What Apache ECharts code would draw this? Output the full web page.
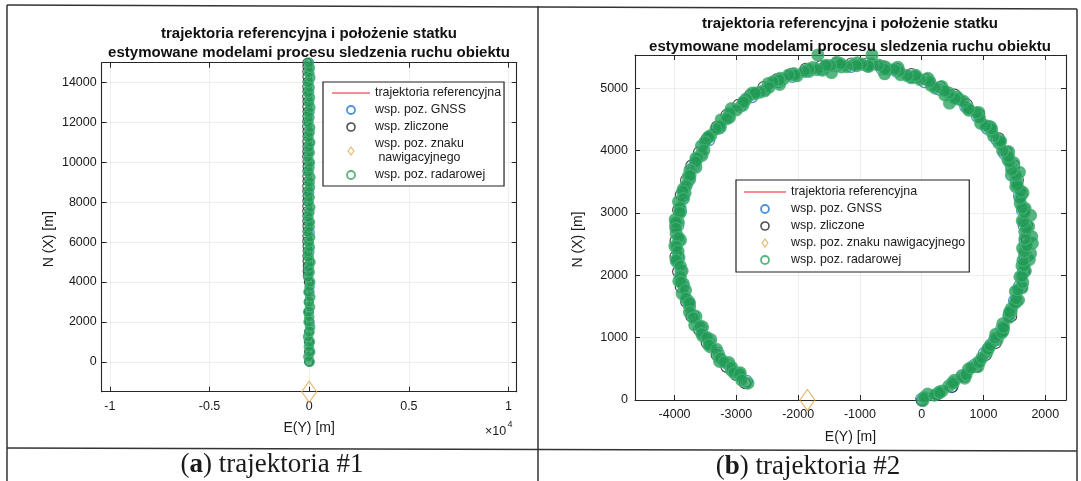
<!DOCTYPE html>
<html>
<head>
<meta charset="utf-8">
<script src="https://cdn.jsdelivr.net/npm/echarts@6/dist/echarts.min.js"></script>
<style>
  html, body { margin: 0; padding: 0; background: #fff; }
  #chart { width: 1081px; height: 481px; }
</style>
</head>
<body>
<div id="chart"></div>
<script>
// ---- shared text ----
const TITLE = ['trajektoria referencyjna i położenie statku',
               'estymowane modelami procesu sledzenia ruchu obiektu'];
const NAMES = ['trajektoria referencyjna', 'wsp. poz. GNSS', 'wsp. zliczone',
               'wsp. poz. znaku nawigacyjnego', 'wsp. poz. radarowej'];
const CAPTIONS = ['a', 'b'];

// ---- tick labels ----
const xTicks1 = [-10000, -5000, 0, 5000, 10000];
const yTicks1 = [0, 2000, 4000, 6000, 8000, 10000, 12000, 14000];
const xTicks2 = [-4000, -3000, -2000, -1000, 0, 1000, 2000];
const yTicks2 = [0, 1000, 2000, 3000, 4000, 5000];

// ---- trajectory #1 (straight run north), E / N in metres ----
const ref1E = [0, 0];
const ref1N = [0, 15000];
const gnss1E = [-15, 20, -30, 10, 35, -5, -25, 30, 0, -35, 15, 25, -20, 40, -10, 5, -30, 20, 35, -15, 0, -40, 25, 10, -20, 30, -5, 15, -35, 20, 5];
const gnss1N = [0, 500, 1000, 1500, 2000, 2500, 3000, 3500, 4000, 4500, 5000, 5500, 6000, 6500, 7000, 7500, 8000, 8500, 9000, 9500, 10000, 10500, 11000, 11500, 12000, 12500, 13000, 13500, 14000, 14500, 15000];
const dr1E = [-10, -15, -5, -20, -10, -25, -15, -20, -30,
  -80, -90, -85, -95, -100, -90, -95, -105, -100, -95, -100, -105, -100, -110, -105, -100, -95, -105, -110, -100,
  -105, -100, -95, -100, -110, -105, -100, -105, -95, -100, -110, -105, -100, -95, -105, -100, -110, -100, -105, -95,
  -100, -105, -100, -100];
const dr1N = [0, 500, 1000, 1500, 2000, 2500, 3000, 3500, 4000,
  4300, 4550, 4800, 5050, 5300, 5550, 5800, 6050, 6300, 6550, 6800, 7050, 7300, 7550, 7800, 8050, 8300, 8550, 8800, 9050,
  9300, 9550, 9800, 10050, 10300, 10550, 10800, 11050, 11300, 11550, 11800, 12050, 12300, 12550, 12800, 13050, 13300, 13550, 13800, 14050,
  14300, 14550, 14800, 15000];
const radar1E = [25, -40, 50, -15, 35, -55, 10, 45, -30, 0,
  -50, 40, -20, 55, -35, 15, 50, -45, 25, -10,
  60, -25, -50, 30, -15, 45, -55, 20, 35, -40,
  5, 55, -30, 20, -50, 40, -5, 60, -45, 10,
  30, -55, 25, -20, 50, -35, 15, 45, -60, 10,
  -25, 55, -5, 35, -50, 20, -40, 55, -15, 30, -30];
const radar1N = [0, 250, 500, 750, 1000, 1250, 1500, 1750, 2000, 2250,
  2500, 2750, 3000, 3250, 3500, 3750, 4000, 4250, 4500, 4750,
  5000, 5250, 5500, 5750, 6000, 6250, 6500, 6750, 7000, 7250,
  7500, 7750, 8000, 8250, 8500, 8750, 9000, 9250, 9500, 9750,
  10000, 10250, 10500, 10750, 11000, 11250, 11500, 11750, 12000, 12250,
  12500, 12750, 13000, 13250, 13500, 13750, 14000, 14250, 14500, 14750, 15000];
const beacon1 = [0, -1500];

// ---- trajectory #2 (turning circle) ----
const ref2E = [0, 483, 861, 1178, 1425, 1594, 1679, 1679, 1594, 1470, 1230, 910, 520, 56, -408, -893,
  -1387, -1872, -2336, -2763, -3141, -3458, -3705, -3874, -3959, -3959, -3874, -3705, -3458, -3141, -2843];
const ref2N = [0, 232, 549, 927, 1354, 1818, 2303, 2797, 3282, 3750, 4180, 4560, 4875, 5115, 5284, 5369,
  5369, 5284, 5115, 4868, 4551, 4173, 3746, 3282, 2797, 2303, 1818, 1354, 927, 549, 290];
const gnss2E = [-10, 250, 480, 655, 850, 1005, 1160, 1290, 1405, 1495, 1575, 1640, 1660, 1665, 1650, 1625,
  1575, 1520, 1450, 1335, 1215, 1055, 895, 705, 505, 280, 45, -180, -410, -650, -890, -1140,
  -1385, -1625, -1865, -2095, -2325, -2535, -2745, -2935, -3125, -3285, -3440, -3565, -3690, -3775,
  -3855, -3900, -3940, -3930, -3940, -3900, -3855, -3775, -3690, -3565, -3440, -3285, -3125, -2980, -2830];
const gnss2N = [15, 95, 205, 400, 565, 750, 940, 1150, 1365, 1595, 1825, 2070, 2310, 2530, 2790, 3030,
  3275, 3500, 3740, 3950, 4165, 4350, 4540, 4700, 4855, 4975, 5095, 5180, 5265, 5305, 5350, 5340,
  5350, 5305, 5265, 5180, 5095, 4975, 4855, 4700, 4540, 4350, 4165, 3950, 3740, 3505,
  3275, 3035, 2795, 2550, 2305, 2065, 1825, 1590, 1360, 1150, 940, 750, 565, 435, 305];
const dr2E = [5, 254, 497, 688, 879, 1039, 1198, 1324, 1448, 1533, 1618, 1662, 1704, 1704, 1704, 1662,
  1618, 1555, 1493, 1372, 1250, 1089, 928, 731, 534, 300, 67, -167, -402, -647, -891, -1140,
  -1389, -1634, -1878, -2113, -2347, -2562, -2777, -2968, -3159, -3319, -3478, -3604, -3728, -3813,
  -3898, -3942, -3984, -3984, -3984, -3942, -3898, -3813, -3728, -3604, -3478, -3319, -3159, -3008, -2858];
const dr2N = [-10, 94, 212, 372, 531, 722, 913, 1129, 1343, 1577, 1812, 2057, 2301, 2550, 2799, 3044,
  3288, 3525, 3761, 3977, 4194, 4386, 4578, 4737, 4895, 5017, 5138, 5223, 5308, 5352, 5394, 5394,
  5394, 5352, 5308, 5223, 5138, 5014, 4888, 4729, 4569, 4378, 4187, 3972, 3757, 3523,
  3288, 3044, 2799, 2550, 2301, 2057, 1812, 1577, 1343, 1129, 913, 722, 531, 401, 270];
const radar2E = [20, 96, 282, 327, 498, 533, 697, 757, 911, 910,
  1055, 1079, 1223, 1200, 1312, 1313, 1445, 1452, 1565, 1517,
  1624, 1590, 1677, 1623, 1760, 1634, 1790, 1669, 1729, 1628,
  1672, 1595, 1639, 1523, 1542, 1451, 1490, 1395, 1405, 1255,
  1260, 1125, 1110, 955, 925, 767, 740, 607, 570, 374,
  323, 152, 101, -100, -166, -342, -388, -544, -596, -807,
  -863, -1042, -1100, -1299, -1372, -1553, -1605, -1761, -1822, -2018,
  -2069, -2240, -2291, -2483, -2540, -2706, -2743, -2873, -2897, -3082,
  -3111, -3245, -3260, -3414, -3443, -3565, -3557, -3653, -3655, -3777,
  -3755, -3852, -3829, -3935, -3907, -3988, -3939, -3974, -3904, -3994,
  -3929, -3963, -3877, -3930, -3859, -3877, -3765, -3757, -3655, -3673,
  -3547, -3540, -3413, -3419, -3290, -3270, -3121, -3082, -2937, -2953, -2813,
  -1680, -805, -1460, -600, 1780, 1760, 1740, 450, -2300, 1580,
  40, 207, 292, 438, 506, 645, 720, 799, 931, 975,
  1070, 1109, 1189, 1296, 1323, 1409, 1421, 1509, 1531, 1558,
  1635, 1621, 1658, 1639, 1659, 1704, 1669, 1694, 1644, 1668,
  1626, 1590, 1609, 1543, 1527, 1456, 1420, 1405, 1310, 1275,
  1165, 1130, 1030, 935, 891, 759, 676, 539, 442, 371,
  220, 129, -27, -98, -234, -365, -439, -595, -702, -863,
  -975, -1054, -1212, -1311, -1473, -1549, -1691, -1827, -1900, -2051,
  -2152, -2308, -2410, -2472, -2613, -2695, -2836, -2885, -3000, -3109,
  -3151, -3265, -3330, -3449, -3509, -3526, -3623, -3659, -3751, -3749,
  -3811, -3868, -3855, -3911, -3918, -3979, -3979, -3934, -3969, -3944,
  -3974, -3908, -3906, -3900, -3823, -3816, -3759, -3756, -3694, -3588,
  -3561, -3474, -3444, -3320, -3260, -3196, -3074, -3035, -2945, -2911];
const radar2N = [-10, 93, 126, 144, 277, 316, 351, 495, 534, 599,
  768, 823, 967, 1054, 1106, 1222, 1404, 1465, 1601, 1742,
  1798, 1974, 2071, 2152, 2348, 2432, 2510, 2699, 2782, 2873,
  3070, 3151, 3322, 3419, 3481, 3608, 3800, 3853, 3980, 4113,
  4160, 4310, 4380, 4435, 4605, 4644, 4678, 4821, 4860, 4890,
  5025, 5045, 5155, 5177, 5165, 5217, 5334, 5300, 5342, 5388,
  5349, 5404, 5379, 5339, 5414, 5353, 5287, 5330, 5269, 5197,
  5230, 5147, 5155, 5073, 4957, 4905, 4918, 4784, 4725, 4670,
  4531, 4492, 4372, 4238, 4218, 4071, 3920, 3878, 3731, 3585,
  3544, 3388, 3322, 3181, 3005, 2893, 2847, 2669, 2565, 2467,
  2283, 2217, 2071, 1909, 1863, 1707, 1546, 1495, 1339, 1202,
  1171, 1024, 967, 853, 703, 619, 599, 479, 435, 395, 270,
  5530, 5530, 5250, 5230, 2620, 2960, 2250, 4760, 5060, 3650,
  44, 77, 120, 223, 272, 376, 411, 520, 602, 676,
  816, 875, 996, 1078, 1169, 1321, 1412, 1553, 1624, 1770,
  1884, 1985, 2152, 2238, 2380, 2479, 2587, 2756, 2858, 3004,
  3081, 3232, 3346, 3443, 3605, 3687, 3819, 3902, 3994, 4147,
  4228, 4348, 4398, 4523, 4605, 4664, 4787, 4831, 4920, 4955,
  5000, 5105, 5136, 5204, 5201, 5273, 5300, 5301, 5368, 5354,
  5384, 5359, 5344, 5389, 5359, 5363, 5296, 5305, 5268, 5206,
  5209, 5131, 5099, 5013, 4936, 4919, 4829, 4775, 4650, 4601,
  4509, 4395, 4345, 4216, 4135, 4003, 3882, 3820, 3688, 3597,
  3436, 3350, 3227, 3086, 3009, 2853, 2751, 2602, 2464, 2385,
  2243, 2147, 1980, 1889, 1765, 1629, 1558, 1407, 1316, 1184,
  1063, 1001, 880, 811, 671, 607, 522, 437, 418, 318];
const beacon2 = [-1850, 0];

// ---- styling ----
const SANS = "'Liberation Sans', Arial, Helvetica, sans-serif";
const SERIF = "'Liberation Serif', 'Times New Roman', serif";
const INK = '#262626';
const COL = { ref: '#f01c24', gnss: '#1f78d1', dr: '#222222', beacon: '#e2a64c', radar: '#46b374' };
const RADAR_FILL = 'rgba(32,154,86,0.93)';

const zip = (a, b) => a.map((v, i) => [v, b[i]]);

function axis(gridIndex, position, min, max, ticks, o) {
  const primary = position === 'bottom' || position === 'left';
  const isY = position === 'left' || position === 'right';
  return {
    type: 'value', gridIndex, position, min, max,
    splitNumber: o.split,
    axisLine: { show: true, onZero: false, lineStyle: { color: INK, width: 1.1 } },
    axisTick: { show: true, inside: true, length: 5, customValues: ticks, lineStyle: { color: INK, width: 1 } },
    axisLabel: {
      show: primary, customValues: ticks, formatter: o.fmt || (v => String(v)),
      margin: o.margin, color: '#1a1a1a', fontSize: 12.5, fontFamily: SANS
    },
    splitLine: { show: primary, lineStyle: { color: '#eeeeee', width: 1 } },
    name: primary ? o.name : '',
    nameLocation: 'middle', nameGap: o.nameGap, nameRotate: isY ? 90 : 0,
    nameTextStyle: { color: '#1a1a1a', fontSize: 14, fontFamily: SANS, padding: isY ? [0, 24, 0, 0] : 0 }
  };
}

function legend(left, top, itemWidth, padding, twoLine) {
  const hollow = (c, w) => ({ color: 'rgba(0,0,0,0)', borderColor: c, borderWidth: w });
  return {
    orient: 'vertical', left, top, itemWidth, itemHeight: 8, itemGap: 3, padding,
    selectedMode: false, backgroundColor: '#fff',
    borderColor: '#222', borderWidth: 1.2, borderRadius: 0,
    textStyle: { color: '#1a1a1a', fontSize: 12.4, lineHeight: 14, fontFamily: SANS },
    formatter: twoLine ? (n => n === NAMES[3] ? 'wsp. poz. znaku\n nawigacyjnego' : n) : undefined,
    data: [
      { name: NAMES[0], icon: 'path://M0,0H60V1.2H0Z', itemStyle: { color: COL.ref, borderWidth: 0 } },
      { name: NAMES[1], icon: 'circle', itemStyle: hollow(COL.gnss, 1.8) },
      { name: NAMES[2], icon: 'circle', itemStyle: hollow(COL.dr, 1.6) },
      { name: NAMES[3], icon: 'path://M5,0L10,7L5,14L0,7Z', itemStyle: hollow(COL.beacon, 1.2) },
      { name: NAMES[4], icon: 'circle', itemStyle: hollow('#2ea35f', 1.8) }
    ]
  };
}

function panelSeries(p, d, size, radarSize) {
  const ax = { xAxisIndex: p * 2, yAxisIndex: p * 2 };
  const ring = (c, fill) => ({ color: fill, borderColor: c, borderWidth: 1.2 });
  return [
    // reference track sits underneath every marker layer
    Object.assign({ type: 'line', name: NAMES[0], z: 1, data: zip(d.refE, d.refN), symbol: 'none', showSymbol: false,
      lineStyle: { color: COL.ref, width: 1.4 }, itemStyle: { color: COL.ref }, clip: false }, ax),
    Object.assign({ type: 'scatter', name: NAMES[1], z: 2, data: zip(d.gnssE, d.gnssN), symbol: 'circle',
      symbolSize: size, itemStyle: ring(COL.gnss, 'rgba(0,0,0,0)'), clip: false }, ax),
    Object.assign({ type: 'scatter', name: NAMES[2], z: 2, data: zip(d.drE, d.drN), symbol: 'circle',
      symbolSize: size, itemStyle: ring(COL.dr, 'rgba(0,0,0,0)'), clip: false }, ax),
    Object.assign({ type: 'scatter', name: NAMES[3], z: 2, data: [d.beacon], symbol: 'diamond',
      symbolSize: [15, 21], itemStyle: { color: 'rgba(0,0,0,0)', borderColor: COL.beacon, borderWidth: 1.2 }, clip: false }, ax),
    Object.assign({ type: 'scatter', name: NAMES[4], z: 3, data: zip(d.radarE, d.radarN), symbol: 'circle',
      symbolSize: radarSize, itemStyle: ring(COL.radar, RADAR_FILL), clip: false }, ax)
  ];
}

const line = (x1, y1, x2, y2) => ({ type: 'line', silent: true, shape: { x1, y1, x2, y2 },
  style: { stroke: '#333', lineWidth: 1.5 } });
const caption = (x, y, letter, num) => ({ type: 'text', silent: true, x, y,
  style: { text: '({b|' + letter + '}) trajektoria #' + num, fill: '#1a1a1a', fontSize: 27,
    fontFamily: SERIF, align: 'center', verticalAlign: 'middle',
    rich: { b: { fontWeight: 'bold', fontSize: 27, fontFamily: SERIF, fill: '#1a1a1a' } } } });

const titleStyle = { fontSize: 15, fontWeight: 'bold', color: '#111', fontFamily: SANS, lineHeight: 18 };

const chart = echarts.init(document.getElementById('chart'), null, { renderer: 'canvas' });
chart.setOption({
  animation: false,
  backgroundColor: '#fff',
  title: [
    { text: TITLE[0], subtext: TITLE[1], left: 309, top: 25, textAlign: 'center', padding: 0, itemGap: 1,
      textStyle: titleStyle, subtextStyle: titleStyle },
    { text: TITLE[0], subtext: TITLE[1], left: 850, top: 15, textAlign: 'center', padding: 0, itemGap: 4.5,
      textStyle: titleStyle, subtextStyle: titleStyle }
  ],
  grid: [
    { left: 101.7, right: 1081 - 516.7, top: 62.7, bottom: 481 - 391.7, containLabel: false },
    { left: 635, right: 1081 - 1066, top: 55, bottom: 481 - 400, containLabel: false }
  ],
  xAxis: [
    axis(0, 'bottom', -10410, 10410, xTicks1, { split: 4, fmt: v => String(v / 10000), margin: 8, name: 'E(Y) [m]', nameGap: 29 }),
    axis(0, 'top', -10410, 10410, xTicks1, { split: 4 }),
    axis(1, 'bottom', -4640, 2335, xTicks2, { split: 7, margin: 8, name: 'E(Y) [m]', nameGap: 30 }),
    axis(1, 'top', -4640, 2335, xTicks2, { split: 7 })
  ],
  yAxis: [
    axis(0, 'left', -1500, 15000, yTicks1, { split: 8, margin: 5, name: 'N (X) [m]', nameGap: 46 }),
    axis(0, 'right', -1500, 15000, yTicks1, { split: 8 }),
    axis(1, 'left', 0, 5530, yTicks2, { split: 5, margin: 7, name: 'N (X) [m]', nameGap: 50 }),
    axis(1, 'right', 0, 5530, yTicks2, { split: 5 })
  ],
  legend: [
    legend(323, 82, 38, [4, 3, 4, 9], true),
    legend(736, 180, 42, [5, 4, 5, 8], false)
  ],
  series: [
    ...panelSeries(0, { refE: ref1E, refN: ref1N, gnssE: gnss1E, gnssN: gnss1N, drE: dr1E, drN: dr1N,
      radarE: radar1E, radarN: radar1N, beacon: beacon1 }, 8.5, 9.5),
    ...panelSeries(1, { refE: ref2E, refN: ref2N, gnssE: gnss2E, gnssN: gnss2N, drE: dr2E, drN: dr2N,
      radarE: radar2E, radarN: radar2N, beacon: beacon2 }, 11, 12)
  ],
  graphic: [
    line(7, 5, 1077, 9),
    line(7, 5, 7, 481),
    line(538, 6, 538, 481),
    line(1077, 9, 1077, 481),
    line(7, 448, 1077, 451),
    caption(272, 465, CAPTIONS[0], 1),
    caption(808, 467, CAPTIONS[1], 2),
    { type: 'text', silent: true, x: 485, y: 432,
      style: { text: '×10', fill: '#1a1a1a', fontSize: 12.5, fontFamily: SANS, align: 'left', verticalAlign: 'middle' } },
    { type: 'text', silent: true, x: 507.5, y: 425,
      style: { text: '4', fill: '#1a1a1a', fontSize: 9, fontFamily: SANS, align: 'left', verticalAlign: 'middle' } }
  ]
});
</script>
</body>
</html>
